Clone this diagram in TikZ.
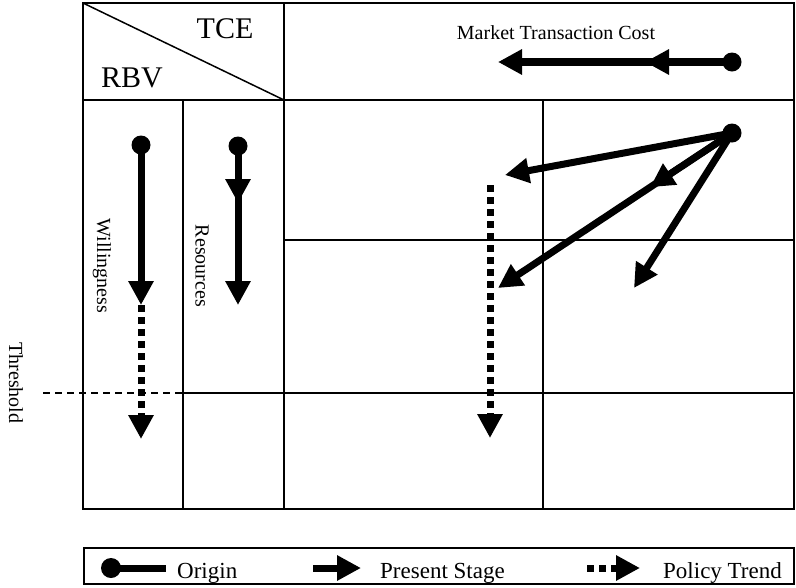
\documentclass[tikz,border=0pt]{standalone}
\usepackage{fontspec}
\setmainfont{Liberation Serif}
\usetikzlibrary{arrows.meta,calc}
\tikzset{
  frame/.style={line width=2.5pt},
  grid/.style={line width=1.3pt},
  stage/.style={line width=7pt, -{Triangle[length=24pt,width=24pt]}},
  trend/.style={line width=7pt, dash pattern=on 7pt off 5pt, -{Triangle[length=24pt,width=24pt]}},
  origin/.style={line width=7pt},
}
\def\bigfont{\fontsize{30}{36}\selectfont}
\def\midfont{\fontsize{20}{24}\selectfont}
\def\legfont{\fontsize{23}{27}\selectfont}

\begin{document}
\begin{tikzpicture}[x=1pt,y=-1pt]
			%%%%% START %%%%%
			\useasboundingbox (0,0) rectangle (796,587);
			
			\draw[frame] (83,3) rectangle (794,509);
			\draw[frame] (83,100) -- (794,100);
			\draw[frame] (284,3) -- (284,509);
			\draw[line width=1.5pt] (83,3) -- (284,100);
			\draw[grid] (183,100) -- (183,509);
			\draw[grid] (543,100) -- (543,509);
			\draw[grid] (284,240) -- (794,240);
			\draw[grid] (183,393) -- (794,393);
			\draw[line width=2.5pt, dash pattern=on 7pt off 5pt] (43,393) -- (183,393);
			
			\node[font=\bigfont, anchor=base] (tce) at (225,38) {TCE};
			\node[font=\bigfont, anchor=base] (rbv) at (132,87) {RBV};
			\node[font=\midfont, anchor=base] (mtc) at (556,39) {Market Transaction Cost};
			\node[font=\midfont, rotate=-90] (will) at (102,266) {Willingness};
			\node[font=\midfont, rotate=-90] (res) at (202,266) {Resources};
			\node[font=\midfont, rotate=-90] (thr) at (16,383) {Threshold};
			
			% willingness
			\coordinate (wO) at (141,145);
			\coordinate (wP) at (141,305);
			\coordinate (wT) at (141,439);
			\fill (wO) circle (9.5pt);
			\draw[stage] (wO) -- (wP);
			\draw[trend] (wP) -- (wT);
			
			% resources
			\coordinate (rO) at (238,146);
			\coordinate (rM) at (238,203);
			\coordinate (rP) at (238,305);
			\fill (rO) circle (9.5pt);
			\draw[stage] (rO) -- (rP);
			\draw[stage] (rO) -- (rM);
			
			% market transaction cost
			\coordinate (mO) at (732,62);
			\coordinate (mM) at (645,62);
			\coordinate (mP) at (498,62);
			\fill (mO) circle (9.5pt);
			\draw[stage, line width=8pt] (mO) -- (mP);
			\draw[stage, line width=8pt] (mO) -- (mM);
			
			% policy cases
			\coordinate (cO) at (732,133);
			\coordinate (cA) at (505,175);
			\coordinate (cB) at (498,288);
			\coordinate (cC) at (634,288);
			\coordinate (cM) at ($(cO)!0.35!(cB)$);
			\coordinate (dS) at (490,185);
			\coordinate (dT) at (490,438);
			\fill (cO) circle (9.5pt);
			\draw[stage] (cO) -- (cA);
			\draw[stage] (cO) -- (cB);
			\draw[stage] (cO) -- (cM);
			\draw[stage] (cO) -- (cC);
			\draw[trend] (dS) -- (dT);
			
			% legend
			\draw[line width=2pt] (84,548) rectangle (794,584);
			\coordinate (lgO) at (111,568);
			\coordinate (lgOe) at (166,568);
			\fill (lgO) circle (10pt);
			\draw[origin] (lgO) -- (lgOe);
			\node[font=\legfont, anchor=base west, inner sep=0pt] (lgOt) at (177,578) {Origin};
			\coordinate (lgPs) at (313,568);
			\coordinate (lgPe) at (361,568);
			\draw[stage] (lgPs) -- (lgPe);
			\node[font=\legfont, anchor=base west, inner sep=0pt] (lgPt) at (380,578) {Present Stage};
			\coordinate (lgTs) at (587,568);
			\coordinate (lgTe) at (640,568);
			\draw[trend] (lgTs) -- (lgTe);
			\node[font=\legfont, anchor=base west, inner sep=0pt] (lgTt) at (663,578) {Policy Trend};
			
			%%%%% END %%%%%
		\end{tikzpicture}
\end{document}
